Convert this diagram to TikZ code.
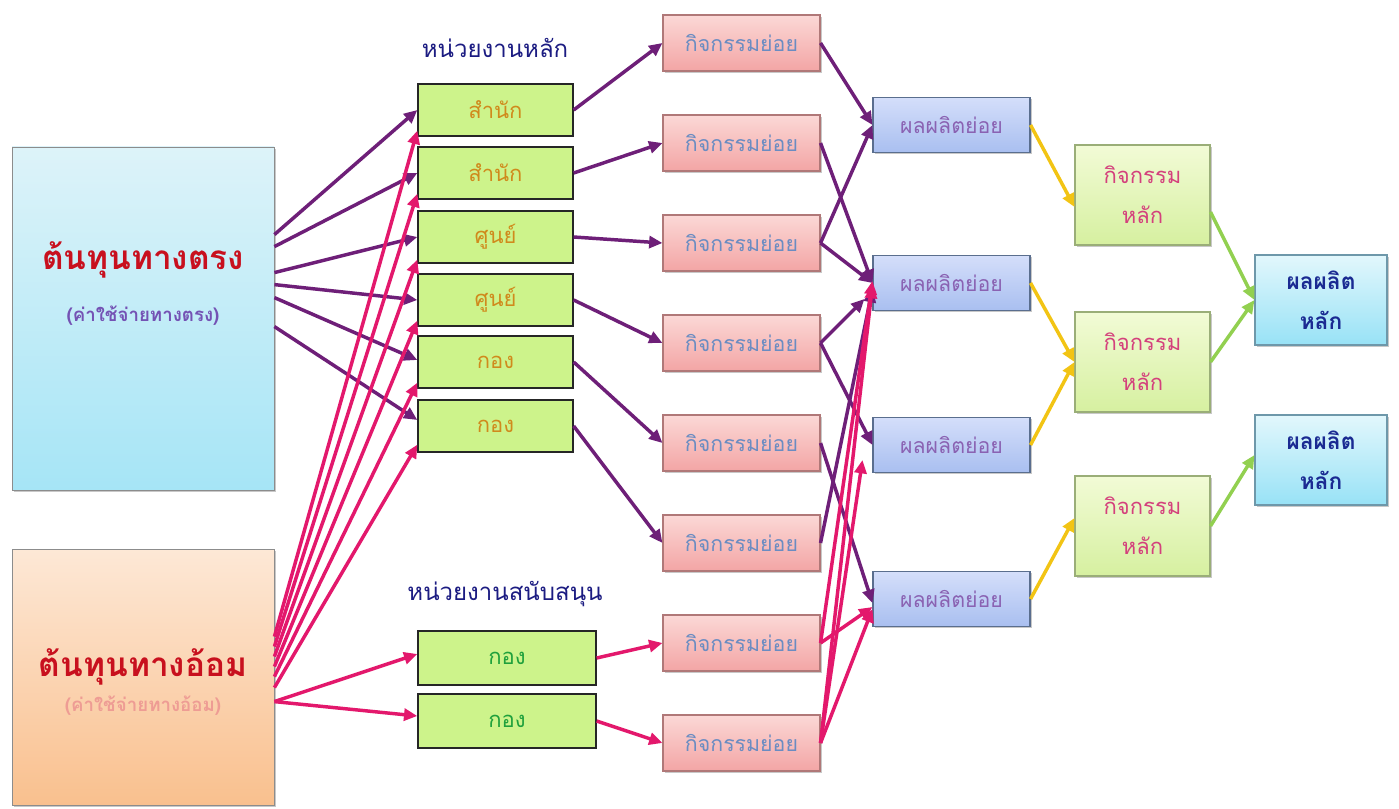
\documentclass[tikz,border=0pt]{standalone}
\usepackage{fontspec}
\newfontfamily\thai[Script=Thai]{Loma}
\usetikzlibrary{arrows.meta,shadows,calc}
\definecolor{purp}{HTML}{6E1F78}
\definecolor{crim}{HTML}{E3186C}
\definecolor{yel}{HTML}{F2C414}
\definecolor{grn}{HTML}{92D050}
\definecolor{dcTop}{HTML}{DDF3F9}
\definecolor{dcBot}{HTML}{A6E5F6}
\definecolor{icTop}{HTML}{FDE8D6}
\definecolor{icBot}{HTML}{F9C08E}
\definecolor{unitFill}{HTML}{CDF38B}
\definecolor{pkTop}{HTML}{FBD8D6}
\definecolor{pkBot}{HTML}{F3A5A5}
\definecolor{pkLine}{HTML}{B07878}
\definecolor{blTop}{HTML}{D4DEFA}
\definecolor{blBot}{HTML}{A9BFF0}
\definecolor{blLine}{HTML}{5A6E8E}
\definecolor{maTop}{HTML}{F2FBD6}
\definecolor{maBot}{HTML}{D6F0A0}
\definecolor{maLine}{HTML}{9AAE78}
\definecolor{moTop}{HTML}{E2F7FC}
\definecolor{moBot}{HTML}{98E2F6}
\definecolor{moLine}{HTML}{6E98AA}
\definecolor{titleRed}{HTML}{C8101E}
\definecolor{subPurp}{HTML}{7452B4}
\definecolor{subPink}{HTML}{EE9C94}
\definecolor{headBlue}{HTML}{1C1C82}
\definecolor{unitText}{HTML}{D08A1C}
\definecolor{supText}{HTML}{1FA03C}
\definecolor{actText}{HTML}{6A8CC2}
\definecolor{outText}{HTML}{8A62B2}
\definecolor{maText}{HTML}{D4407C}
\definecolor{moText}{HTML}{1A2A92}
\begin{document}
\begin{tikzpicture}[x=0.75pt,y=-0.75pt,
  sz/.style 2 args={minimum width=#1*0.75pt, minimum height=#2*0.75pt, inner sep=0pt},
  shad/.style={drop shadow={shadow xshift=1.2pt,shadow yshift=-1.2pt,opacity=0.3,fill=black!70}},
  bigbox/.style={draw=black!45, line width=0.6pt, shad},
  unitbox/.style={draw=black!85, line width=1pt, fill=unitFill, sz={155}{52},
    font=\thai\fontsize{16.5}{18}\selectfont, text=unitText},
  supbox/.style={unitbox, sz={178}{54}, text=supText},
  actbox/.style={draw=pkLine, line width=0.8pt, top color=pkTop, bottom color=pkBot, shad,
    sz={157}{56}, font=\thai\fontsize{16}{18}\selectfont, text=actText},
  outbox/.style={draw=blLine, line width=0.8pt, top color=blTop, bottom color=blBot, shad,
    sz={157}{55}, font=\thai\fontsize{16}{18}\selectfont, text=outText},
  mabox/.style={draw=maLine, line width=0.8pt, top color=maTop, bottom color=maBot, shad,
    sz={135}{100}, align=center, font=\thai\fontsize{16.5}{30}\selectfont, text=maText},
  mobox/.style={draw=moLine, line width=0.8pt, top color=moTop, bottom color=moBot, shad,
    sz={132}{90}, align=center, font=\thai\bfseries\fontsize{17}{30}\selectfont, text=moText},
  head/.style={font=\thai\fontsize{18}{20}\selectfont, text=headBlue, inner sep=0pt},
  arr/.style={line width=2.6pt, -{Triangle[length=10pt,width=9pt]}},
  pa/.style={arr, draw=purp},
  ca/.style={arr, draw=crim},
  ya/.style={arr, draw=yel},
  ga/.style={arr, draw=grn}
]
\useasboundingbox (0,0) rectangle (1399,809);
\fill[white] (0,0) rectangle (1399,809);

% cost boxes
\node[bigbox, top color=dcTop, bottom color=dcBot, sz={262}{343}] (dc) at (143,318.5) {};
\node[font=\thai\bfseries\fontsize{25}{28}\selectfont, text=titleRed] (dct) at (143,260) {ต้นทุนทางตรง};
\node[font=\thai\bfseries\fontsize{14}{16}\selectfont, text=subPurp] (dcs) at (143,316) {(ค่าใช้จ่ายทางตรง)};
\node[bigbox, top color=icTop, bottom color=icBot, sz={262}{256}] (ic) at (143,677) {};
\node[font=\thai\bfseries\fontsize{25}{28}\selectfont, text=titleRed] (ict) at (143,667) {ต้นทุนทางอ้อม};
\node[font=\thai\bfseries\fontsize{14}{16}\selectfont, text=subPink] (ics) at (143,706) {(ค่าใช้จ่ายทางอ้อม)};

% headings
\node[head] (h1) at (495,48) {หน่วยงานหลัก};
\node[head] (h2) at (505,594) {หน่วยงานสนับสนุน};

% units
\node[unitbox] (g1) at (495.5,110) {สำนัก};
\node[unitbox] (g2) at (495.5,173) {สำนัก};
\node[unitbox] (g3) at (495.5,237) {ศูนย์};
\node[unitbox] (g4) at (495.5,300) {ศูนย์};
\node[unitbox] (g5) at (495.5,362) {กอง};
\node[unitbox] (g6) at (495.5,426) {กอง};
\node[supbox] (s1) at (507,658) {กอง};
\node[supbox] (s2) at (507,721) {กอง};

% sub activities
\foreach \i/\y in {1/43,2/143,3/243,4/343,5/443,6/543,7/643,8/743}
  \node[actbox] (p\i) at (741.5,\y) {กิจกรรมย่อย};

% sub outputs
\foreach \i/\y in {1/125,2/283,3/445,4/599}
  \node[outbox] (b\i) at (951.5,\y) {ผลผลิตย่อย};

% main activities
\foreach \i/\y in {1/195,2/362,3/526}
  \node[mabox] (m\i) at (1142.5,\y) {กิจกรรม\\หลัก};

% main outputs
\node[mobox] (o1) at (1321,300) {ผลผลิต\\หลัก};
\node[mobox] (o2) at (1321,460) {ผลผลิต\\หลัก};

% direct cost -> units
\draw[pa] ($(dc.north east)+(0,88)$) -- (g1.west);
\draw[pa] ($(dc.north east)+(0,100)$) -- (g2.west);
\draw[pa] ($(dc.north east)+(0,126)$) -- (g3.west);
\draw[pa] ($(dc.north east)+(0,138)$) -- (g4.west);
\draw[pa] ($(dc.north east)+(0,151)$) -- ($(g5.west)+(0,-2)$);
\draw[pa] ($(dc.north east)+(0,180)$) -- ($(g6.west)+(0,-6)$);

% indirect cost -> units
\draw[ca] ($(ic.north east)+(0,88)$) -- ($(g1.south west)+(0,-6)$);
\draw[ca] ($(ic.north east)+(0,98)$) -- ($(g2.south west)+(0,-6)$);
\draw[ca] ($(ic.north east)+(0,108)$) -- ($(g3.south west)+(0,-4)$);
\draw[ca] ($(ic.north east)+(0,118)$) -- ($(g4.south west)+(0,-6)$);
\draw[ca] ($(ic.north east)+(0,128)$) -- ($(g5.south west)+(0,-6)$);
\draw[ca] ($(ic.north east)+(0,139)$) -- ($(g6.south west)+(0,-8)$);
\draw[ca] ($(ic.north east)+(0,153)$) -- ($(s1.west)+(0,-4)$);
\draw[ca] ($(ic.north east)+(0,153)$) -- ($(s2.west)+(0,-5)$);

% units -> sub activities
\draw[pa] (g1.east) -- (p1.west);
\draw[pa] (g2.east) -- (p2.west);
\draw[pa] (g3.east) -- (p3.west);
\draw[pa] (g4.east) -- (p4.west);
\draw[pa] (g5.east) -- (p5.west);
\draw[pa] (g6.east) -- (p6.west);
\draw[ca] (s1.east) -- (p7.west);
\draw[ca] (s2.east) -- (p8.west);

% sub activities -> sub outputs
\draw[pa] (p1.east) -- (b1.west);
\draw[pa] (p2.east) -- (b2.west);
\draw[pa] (p3.east) -- (b1.west);
\draw[pa] (p3.east) -- (b2.west);
\draw[pa] (p4.east) -- ($(b2.west)+(-8,16)$);
\draw[pa] (p4.east) -- (b3.west);
\draw[pa] (p5.east) -- ($(b4.west)+(0,4)$);
\draw[pa] (p6.east) -- ($(b2.west)+(0,6)$);
\draw[ca] (p7.east) -- ($(b2.west)+(0,-2)$);
\draw[ca] (p7.east) -- ($(b4.west)+(0,8)$);
\draw[ca] (p8.east) -- ($(b2.west)+(0,2)$);
\draw[ca] (p8.east) -- ($(b3.west)+(-10,15)$);
\draw[ca] (p8.east) -- ($(b4.west)+(0,10)$);

% sub outputs -> main activities
\draw[ya] (b1.east) -- ($(m1.west)+(0,12)$);
\draw[ya] (b2.east) -- (m2.west);
\draw[ya] (b3.east) -- (m2.west);
\draw[ya] (b4.east) -- ($(m3.west)+(0,-8)$);

% main activities -> main outputs
\draw[ga] ($(m1.east)+(0,17)$) -- (o1.west);
\draw[ga] (m2.east) -- (o1.west);
\draw[ga] (m3.east) -- ($(o2.west)+(0,-5)$);
\end{tikzpicture}
\end{document}
